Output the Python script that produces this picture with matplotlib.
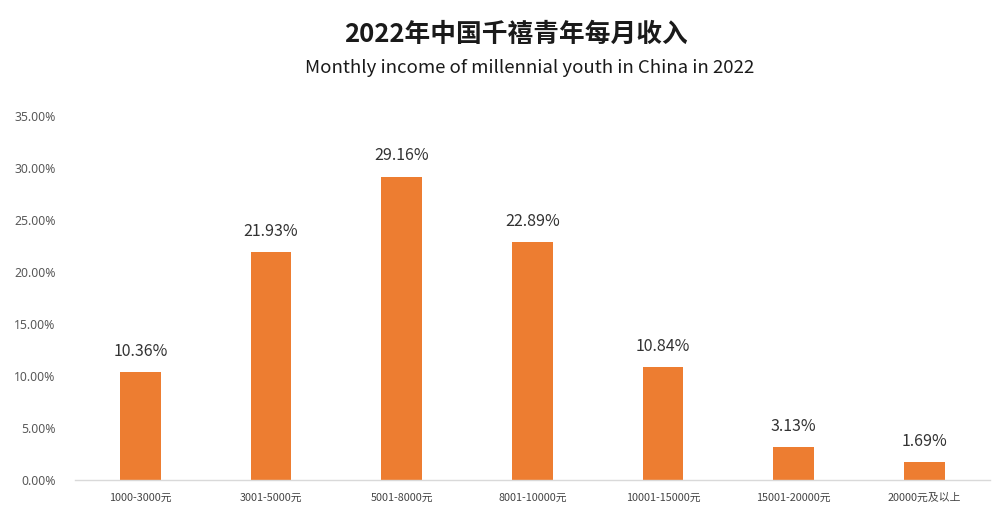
import matplotlib
matplotlib.use("Agg")
import matplotlib.pyplot as plt
from matplotlib.ticker import FuncFormatter, MultipleLocator

plt.rcParams['font.family'] = ['Noto Sans CJK SC', 'DejaVu Sans']

categories = ["1000-3000元", "3001-5000元", "5001-8000元", "8001-10000元",
              "10001-15000元", "15001-20000元", "20000元及以上"]
values = [10.36, 21.93, 29.16, 22.89, 10.84, 3.13, 1.69]

fig = plt.figure(figsize=(10.03, 5.32), dpi=100)
ax = fig.add_axes([0.0748, 0.0977, 0.912, 0.684])

x = range(len(categories))
bars = ax.bar(x, values, width=0.31, color="#ED7D31")
for xi, v in zip(x, values):
    ax.text(xi, v + 1.2, f"{v:.2f}%", ha="center", va="bottom",
            fontsize=11.5, color="#333333")

ax.set_ylim(0, 35)
ax.set_xlim(-0.5, len(categories) - 0.5)
ax.yaxis.set_major_locator(MultipleLocator(5))
ax.yaxis.set_major_formatter(FuncFormatter(lambda v, p: f"{v:.2f}%"))
ax.set_xticks(list(x))
ax.set_xticklabels(categories, fontsize=7.8, color="#444444")
ax.tick_params(axis="y", labelsize=8.8, labelcolor="#595959", length=0, pad=14,
               labelfontfamily="Noto Sans")
ax.tick_params(axis="x", length=0, pad=9)
for s in ["top", "right", "left"]:
    ax.spines[s].set_visible(False)
ax.spines["bottom"].set_color("#D9D9D9")
ax.spines["bottom"].set_linewidth(1)

fig.text(0.514, 0.936, "2022年中国千禧青年每月收入", ha="center", va="center",
         fontsize=18.5, fontweight="bold", color="#1a1a1a")
fig.text(0.528, 0.872, "Monthly income of millennial youth in China in 2022",
         ha="center", va="center", fontsize=13.4, color="#1a1a1a")

fig.savefig("out.png", dpi=100, facecolor="white")
